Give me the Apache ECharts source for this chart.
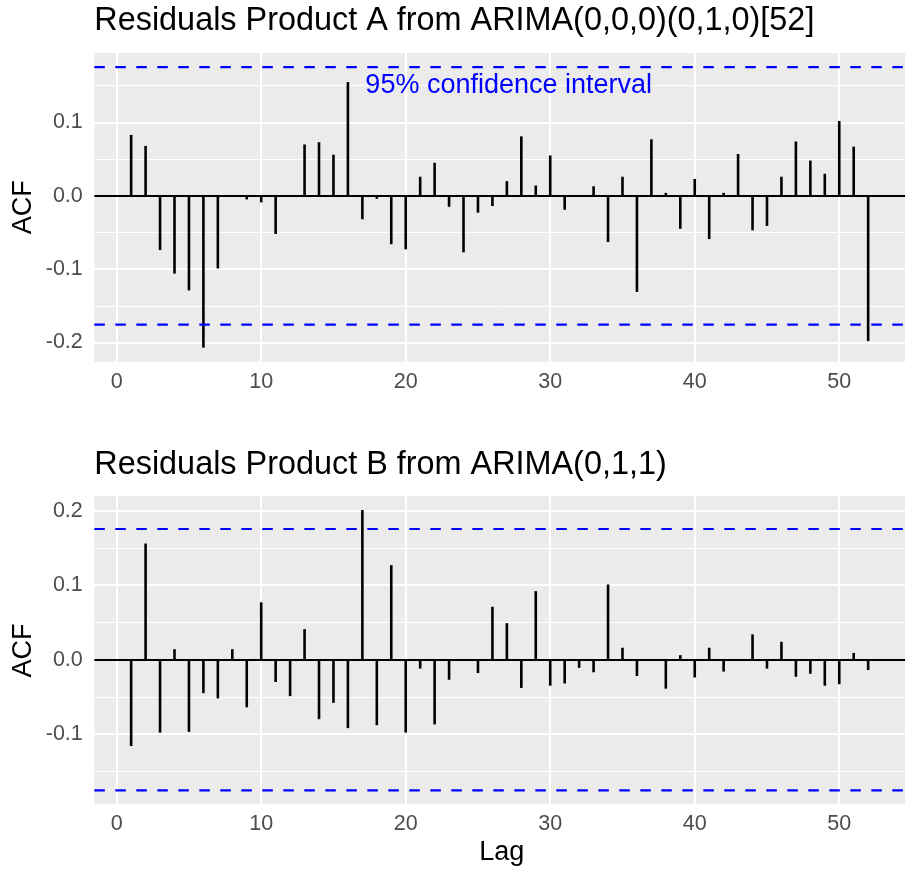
<!DOCTYPE html>
<html>
<head>
<meta charset="utf-8">
<script src="https://cdn.jsdelivr.net/npm/echarts@6/dist/echarts.min.js"></script>
<style>
html,body{margin:0;padding:0;background:#fff;}
#chart{width:905px;height:870px;}
</style>
</head>
<body>
<div id="chart"></div>
<script>
// ---- data ----
const lags = [1,2,3,4,5,6,7,8,9,10,11,12,13,14,15,16,17,18,19,20,21,22,23,24,25,26,27,28,29,30,31,32,33,34,35,36,37,38,39,40,41,42,43,44,45,46,47,48,49,50,51,52];
const acfA = [0.083,0.068,-0.074,-0.106,-0.129,-0.207,-0.099,0.001,-0.005,-0.009,-0.052,0,0.070,0.073,0.056,0.155,-0.032,-0.004,-0.066,-0.073,0.026,0.045,-0.015,-0.077,-0.023,-0.014,0.020,0.081,0.014,0.055,-0.019,0,0.013,-0.063,0.026,-0.131,0.077,0.004,-0.045,0.023,-0.059,0.004,0.057,-0.047,-0.041,0.026,0.074,0.048,0.030,0.102,0.067,-0.198];
const acfB = [-0.116,0.156,-0.098,0.014,-0.097,-0.045,-0.052,0.014,-0.064,0.077,-0.030,-0.049,0.041,-0.080,-0.058,-0.092,0.201,-0.088,0.127,-0.098,-0.012,-0.087,-0.027,0,-0.018,0.071,0.049,-0.038,0.092,-0.035,-0.032,-0.011,-0.017,0.101,0.016,-0.022,0,-0.039,0.006,-0.024,0.016,-0.016,0,0.034,-0.012,0.024,-0.023,-0.019,-0.035,-0.033,0.009,-0.014];
const ci = 0.1755;
const xTicks = [0,10,20,30,40,50];
const yTicksA = [-0.2,-0.1,0,0.1];
const yMinorA = [-0.15,-0.05,0.05,0.15];
const yTicksB = [-0.1,0,0.1,0.2];
const yMinorB = [-0.15,-0.05,0.05,0.15];
const titleA = 'Residuals Product A from ARIMA(0,0,0)(0,1,0)[52]';
const titleB = 'Residuals Product B from ARIMA(0,1,1)';
const ciLabel = '95% confidence interval';

// ---- scales (ggplot-like 5% expansion) ----
function expand(lo, hi){ const d=(hi-lo)*0.05; return [lo-d, hi+d]; }
const xr = expand(Math.min(...lags), Math.max(...lags));
const yrA = expand(Math.min(...acfA, -ci), Math.max(...acfA, ci));
const yrB = expand(Math.min(...acfB, -ci), Math.max(...acfB, ci));

const FONT = '"Liberation Sans", Arial, Helvetica, sans-serif';
const gridW = 815;
const grids = [
  {left:94.3, top:53, width:gridW, height:308.7},
  {left:94.3, top:496, width:gridW, height:308.3}
];

function xAxis(i){
  return {
    type:'value', gridIndex:i, min:xr[0], max:xr[1],
    axisLine:{show:false},
    axisTick:{show:true, customValues:xTicks, length:7, lineStyle:{color:'#333333', width:2}},
    axisLabel:{show:true, customValues:xTicks, color:'#4D4D4D', fontSize:21.5, fontFamily:FONT, margin:9},
    splitLine:{show:false}
  };
}
function yAxis(i, yr, ticks){
  return {
    type:'value', gridIndex:i, min:yr[0], max:yr[1],
    axisLine:{show:false},
    axisTick:{show:true, customValues:ticks, length:7, lineStyle:{color:'#333333', width:2}},
    axisLabel:{show:true, customValues:ticks, color:'#4D4D4D', fontSize:21.5, fontFamily:FONT, margin:11.5,
      formatter:function(v){return v.toFixed(1);}},
    splitLine:{show:false}
  };
}
function gridSeries(i, majors, minors){
  const d = [];
  minors.forEach(v=>d.push({yAxis:v, lineStyle:{color:'#FFFFFF', width:1, type:'solid'}}));
  majors.forEach(v=>d.push({yAxis:v, lineStyle:{color:'#FFFFFF', width:2, type:'solid'}}));
  xTicks.forEach(v=>d.push({xAxis:v, lineStyle:{color:'#FFFFFF', width:2, type:'solid'}}));
  return {
    type:'line', xAxisIndex:i, yAxisIndex:i, data:[], z:1, silent:true, animation:false,
    markLine:{z:1, precision:6, silent:true, symbol:'none', animation:false, label:{show:false}, data:d}
  };
}
function barSeries(i, vals){
  return {
    type:'bar', xAxisIndex:i, yAxisIndex:i, z:2, barWidth:2.6, animation:false, silent:true,
    itemStyle:{color:'#000000'},
    data: lags.map((l,k)=>[l, vals[k]]),
    markLine:{z:3, precision:6, silent:true, symbol:'none', animation:false, label:{show:false},
      data:[{yAxis:0, lineStyle:{color:'#000000', width:2.2, type:'solid'}}]}
  };
}
function ciLine(i, v){
  return {
    type:'line', xAxisIndex:i, yAxisIndex:i, z:4, silent:true, animation:false,
    showSymbol:false, symbol:'none',
    lineStyle:{color:'#0000FF', width:2.2, type:[10.5,10.5], dashOffset:0},
    data:[[xr[0], v],[xr[1], v]]
  };
}

const txt = (text, x, y, size, color) => ({
  type:'text', x:x, y:y, silent:true, z:10,
  style:{text:text, fill:color, font: size + 'px ' + FONT, align:'left', verticalAlign:'middle'}
});

const option = {
  backgroundColor:'#FFFFFF',
  animation:false,
  grid: grids.map(g=>Object.assign({containLabel:false, backgroundColor:'#EBEBEB', show:true, borderWidth:0}, g)),
  xAxis:[xAxis(0), xAxis(1)],
  yAxis:[yAxis(0, yrA, yTicksA), yAxis(1, yrB, yTicksB)],
  series:[
    gridSeries(0, yTicksA, yMinorA), barSeries(0, acfA), ciLine(0, ci), ciLine(0, -ci),
    gridSeries(1, yTicksB, yMinorB), barSeries(1, acfB), ciLine(1, ci), ciLine(1, -ci)
  ],
  graphic:[
    txt(titleA, 94.3, 21, 32.4, '#000000'),
    txt(titleB, 94.3, 465, 32.4, '#000000'),
    {type:'text', x:23.3, y:207.2, rotation:Math.PI/2, silent:true, z:10,
      style:{text:'ACF', fill:'#000000', font:'27px ' + FONT, align:'center', verticalAlign:'middle'}},
    {type:'text', x:23.3, y:650.5, rotation:Math.PI/2, silent:true, z:10,
      style:{text:'ACF', fill:'#000000', font:'27px ' + FONT, align:'center', verticalAlign:'middle'}},
    {type:'text', x:501.8, y:852.5, silent:true, z:10,
      style:{text:'Lag', fill:'#000000', font:'27px ' + FONT, align:'center', verticalAlign:'middle'}},
    {type:'text', x:508.7, y:86, silent:true, z:10,
      style:{text:ciLabel, fill:'#0000FF', font:'27px ' + FONT, align:'center', verticalAlign:'middle'}}
  ]
};

const chart = echarts.init(document.getElementById('chart'), null, {renderer:'canvas', width:905, height:870});
chart.setOption(option);
</script>
</body>
</html>
